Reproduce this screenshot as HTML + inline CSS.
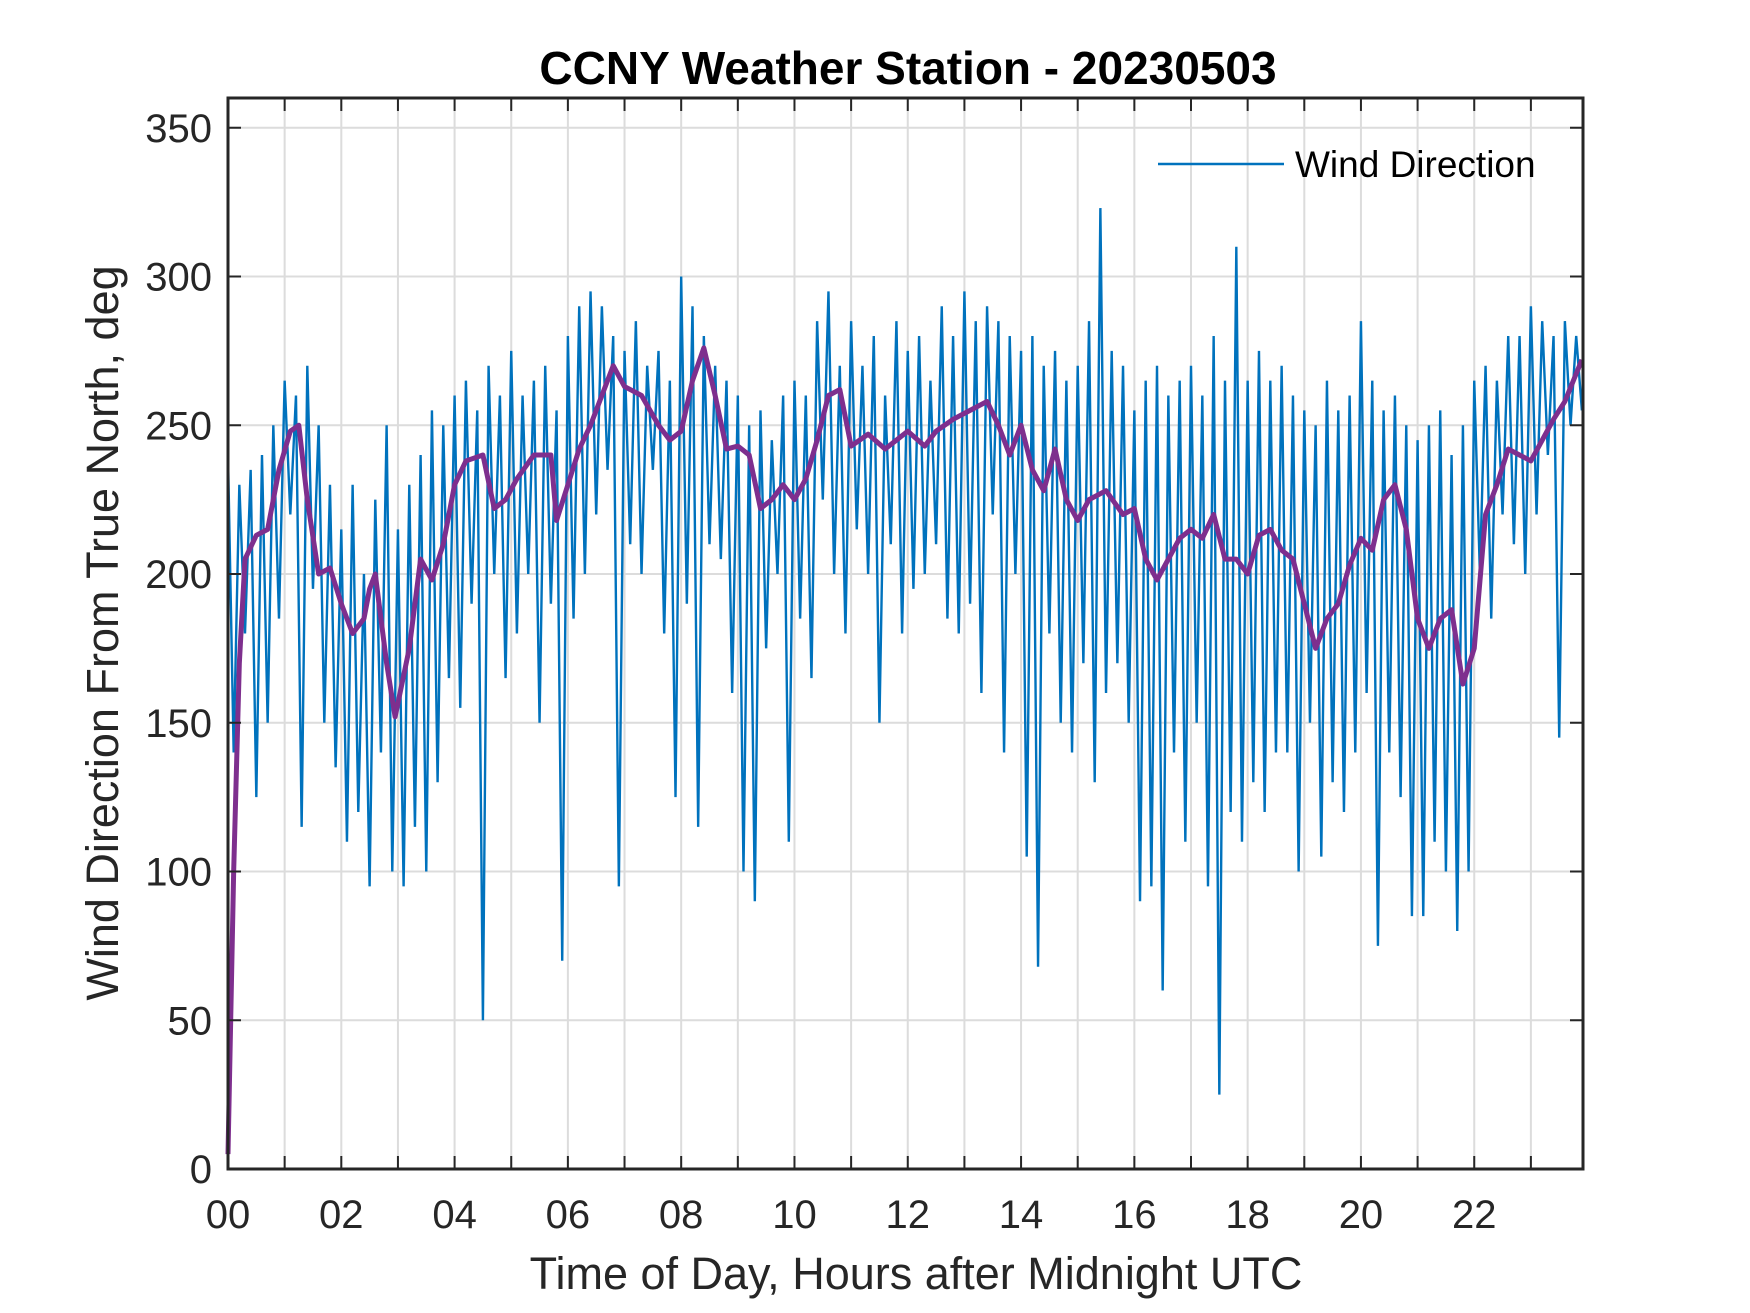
<!DOCTYPE html>
<html><head><meta charset="utf-8"><style>
html,body{margin:0;padding:0;background:#fff;}
svg{display:block;font-family:"Liberation Sans",Arial,sans-serif;}
</style></head><body>
<svg id="chart" width="1750" height="1313" viewBox="0 0 1750 1313">
<rect width="1750" height="1313" fill="#fff"/>
<g id="grid"></g>
<g id="series"></g>
<g id="axes"></g>
<text x="908" y="84" text-anchor="middle" font-size="46" font-weight="bold" fill="#000">CCNY Weather Station - 20230503</text>
<text x="916" y="1289" text-anchor="middle" font-size="45" fill="#262626">Time of Day, Hours after Midnight UTC</text>
<text transform="translate(118,633) rotate(-90)" text-anchor="middle" font-size="45" fill="#262626">Wind Direction From True North, deg</text>
<g>
<line x1="1158" y1="164" x2="1284" y2="164" stroke="#0072BD" stroke-width="2.5"/>
<text x="1295" y="177" font-size="37" fill="#000">Wind Direction</text>
</g>
</svg>
<script>
const xTicks = [0,2,4,6,8,10,12,14,16,18,20,22];
const xTickLabels = ["00","02","04","06","08","10","12","14","16","18","20","22"];
const yTicks = [0,50,100,150,200,250,300,350];
const blueStep = 0.1;
const blueValues = [
240,140,230,180,235,125,240,150,250,185,
265,220,260,115,270,195,250,150,230,135,
215,110,230,120,200,95,225,140,250,100,
215,95,230,115,240,100,255,130,250,165,
260,155,265,190,255,50,270,200,260,165,
275,180,260,200,265,150,270,190,255,70,
280,185,290,200,295,220,290,235,280,95,
275,210,285,200,270,235,275,180,265,125,
300,190,290,115,280,210,270,205,265,160,
260,100,250,90,255,175,245,200,260,110,
265,185,260,165,285,225,295,200,270,180,
285,215,270,200,280,150,260,210,285,180,
275,195,280,200,265,210,290,185,280,180,
295,190,285,160,290,220,285,140,280,200,
275,105,280,68,270,180,275,150,265,140,
270,170,285,130,323,160,275,170,270,150,
255,90,265,95,270,60,260,140,265,110,
270,150,260,95,280,25,265,120,310,110,
265,130,275,120,265,140,270,140,260,100,
255,150,250,105,265,130,255,120,260,140,
285,160,265,75,255,140,260,125,250,85,
245,85,250,110,255,100,240,80,250,100,
265,200,270,185,265,220,280,210,280,200,
290,220,285,240,280,145,285,250,280,255
];
const avgHours = [0,0.1,0.2,0.3,0.5,0.7,0.9,1.1,1.25,1.4,1.6,1.8,2.0,2.2,2.4,2.5,2.6,2.8,2.95,3.2,3.4,3.6,3.8,4.0,4.2,4.5,4.7,4.9,5.1,5.4,5.7,5.8,6.0,6.2,6.4,6.6,6.8,7.0,7.3,7.6,7.8,8.0,8.2,8.4,8.6,8.8,9.0,9.2,9.4,9.6,9.8,10.0,10.2,10.4,10.6,10.8,11.0,11.3,11.6,11.8,12.0,12.3,12.5,12.8,13.1,13.4,13.6,13.8,14.0,14.2,14.4,14.6,14.8,15.0,15.2,15.5,15.8,16.0,16.2,16.4,16.6,16.8,17.0,17.2,17.4,17.6,17.8,18.0,18.2,18.4,18.6,18.8,19.0,19.2,19.4,19.6,19.8,20.0,20.2,20.4,20.6,20.8,21.0,21.2,21.4,21.6,21.8,22.0,22.2,22.4,22.6,22.8,23.0,23.2,23.4,23.6,23.9];
const avgValues = [5,100,170,205,213,215,235,248,250,225,200,202,190,180,185,195,200,170,152,175,205,198,210,230,238,240,222,225,232,240,240,218,230,242,250,260,270,263,260,250,245,248,265,276,260,242,243,240,222,225,230,225,232,245,260,262,243,247,242,245,248,243,248,252,255,258,250,240,250,235,228,242,225,218,225,228,220,222,205,198,205,212,215,212,220,205,205,200,213,215,208,205,190,175,185,190,203,212,208,225,230,215,185,175,185,188,163,175,220,230,242,240,238,245,252,258,272];

const L=228,R=1583,T=98,B=1169,XMAX=23.92,YMAX=360;
const sx=h=>L+(h/XMAX)*(R-L);
const sy=v=>B-(v/YMAX)*(B-T);
const NS="http://www.w3.org/2000/svg";
function mk(tag,attrs,parent){const e=document.createElementNS(NS,tag);for(const k in attrs)e.setAttribute(k,attrs[k]);parent.appendChild(e);return e;}
const grid=document.getElementById('grid'),axes=document.getElementById('axes'),series=document.getElementById('series');
for(let h=1;h<24;h++){
  const g=mk('line',{x1:sx(h),x2:sx(h),y1:T,y2:B,stroke:'#dcdcdc','stroke-width':2},grid);
  
  
  for(const [a,b] of [[T,T+13],[B-13,B]]){
    const t=mk('line',{x1:sx(h),x2:sx(h),y1:a,y2:b,stroke:'#262626','stroke-width':2},axes);
    
    
  }
}
yTicks.forEach(v=>{
  if(v>0){
    const g=mk('line',{x1:L,x2:R,y1:sy(v),y2:sy(v),stroke:'#dcdcdc','stroke-width':2},grid);
    
    
  }
  for(const [a,b] of [[L,L+13],[R-13,R]]){
    const t=mk('line',{x1:a,x2:b,y1:sy(v),y2:sy(v),stroke:'#262626','stroke-width':2},axes);
    
    
  }
  const lb=mk('text',{x:L-16,y:sy(v)+14,'text-anchor':'end','font-size':40,fill:'#262626'},axes);
  lb.textContent=v;
  
  
});
xTicks.forEach((h,i)=>{
  const lb=mk('text',{x:sx(h),y:1228,'text-anchor':'middle','font-size':40,fill:'#262626'},axes);
  lb.textContent=xTickLabels[i];
  
  
});
const frame=mk('rect',{x:L,y:T,width:R-L,height:B-T,fill:'none',stroke:'#262626','stroke-width':3},axes);



const bp=blueValues.map((v,i)=>sx(i*blueStep)+','+sy(v)).join(' ');
const blue=mk('polyline',{points:bp,fill:'none',stroke:'#0072BD','stroke-width':2.4},series);


const ap=avgValues.map((v,i)=>sx(avgHours[i])+','+sy(v)).join(' ');
const avg=mk('polyline',{points:ap,fill:'none',stroke:'#7E2F8E','stroke-width':5,'stroke-linejoin':'round'},series);


</script>
</body></html>
